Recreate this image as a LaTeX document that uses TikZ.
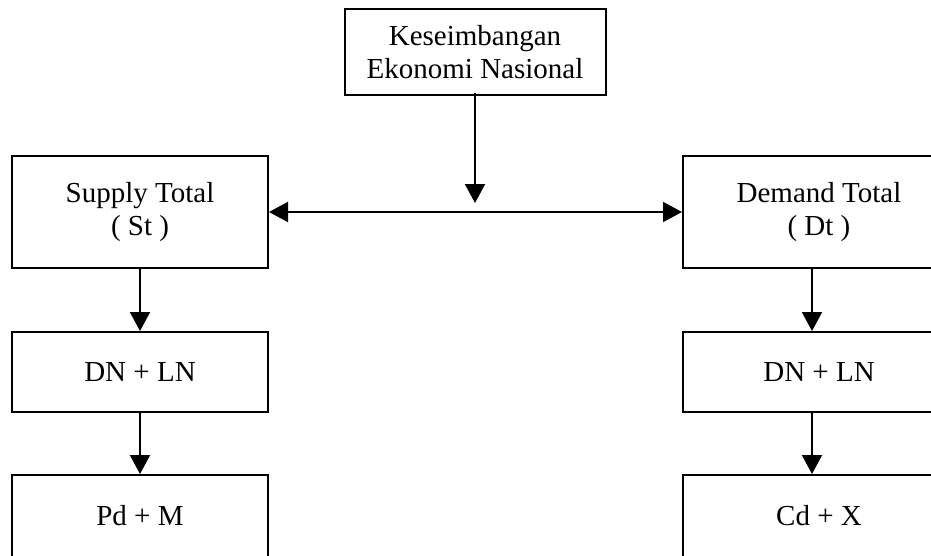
\documentclass[tikz,border=0pt]{standalone}
\usepackage{fontspec}
\setmainfont{Liberation Serif}
\usetikzlibrary{arrows.meta}
\begin{document}
\begin{tikzpicture}[x=1pt,y=-1pt,
 box/.style={draw,line width=2pt,inner sep=0pt,align=center,font=\fontsize{29}{33}\selectfont},
 arr/.style={line width=2pt,-{Triangle[length=19pt,width=20pt]}},
 darr/.style={line width=2pt,{Triangle[length=19pt,width=20pt]}-{Triangle[length=19pt,width=20pt]}}]
\useasboundingbox (0,0) rectangle (931,555);
\clip (0,0) rectangle (931,555);
\node[box,minimum width=261pt,minimum height=86pt] (top) at (475,52) {Keseimbangan\\Ekonomi Nasional};
\node[box,minimum width=256pt,minimum height=112pt] (st) at (140,212) {Supply Total\\( St )};
\node[box,minimum width=256pt,minimum height=80pt] (dn1) at (140,372) {DN + LN};
\node[box,minimum width=256pt,minimum height=82pt] (pd) at (140,516) {Pd + M};
\node[box,minimum width=272pt,minimum height=112pt] (dt) at (819,212) {Demand Total\\( Dt )};
\node[box,minimum width=272pt,minimum height=80pt] (dn2) at (819,372) {DN + LN};
\node[box,minimum width=272pt,minimum height=82pt] (cd) at (819,516) {Cd + X};
\coordinate (mid) at (475,203);
\draw[arr] ([yshift=3pt]top.south) -- (mid);
\draw[darr] (st.east) -- (dt.west);
\draw[arr] (st.south) -- (dn1.north);
\draw[arr] (dn1.south) -- (pd.north);
\draw[arr] ([xshift=-7pt]dt.south) -- ([xshift=-7pt]dn2.north);
\draw[arr] ([xshift=-7pt]dn2.south) -- ([xshift=-7pt]cd.north);
\end{tikzpicture}
\end{document}
